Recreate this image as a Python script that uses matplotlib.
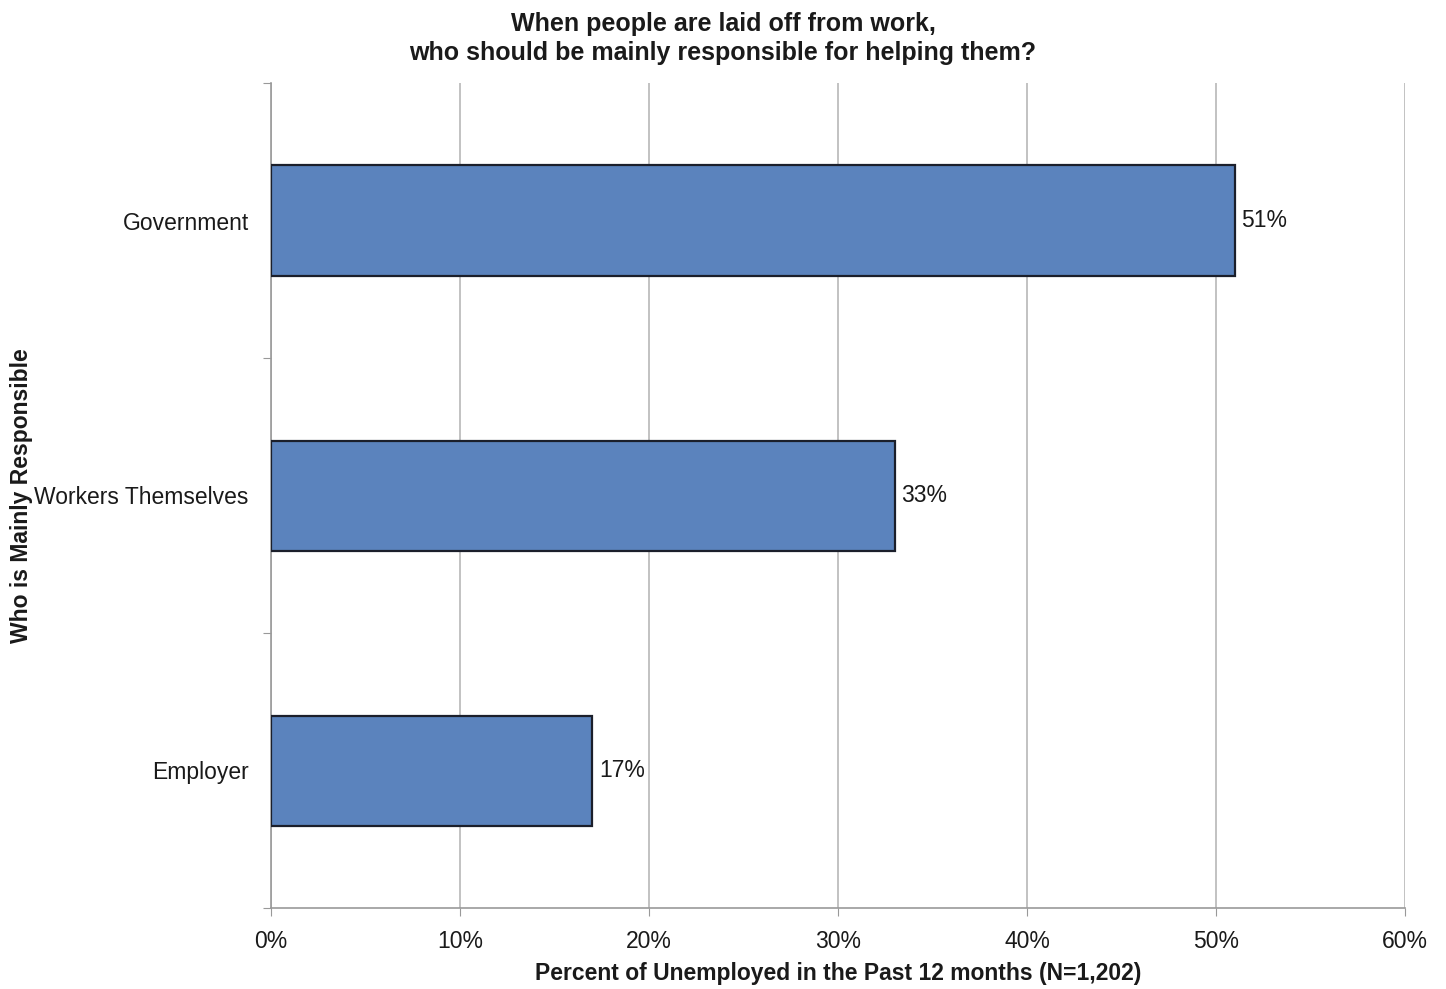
import matplotlib
matplotlib.use("Agg")
import matplotlib.pyplot as plt
from matplotlib.ticker import FixedLocator, NullFormatter

plt.rcParams['font.family'] = ['Liberation Sans', 'DejaVu Sans']

categories = ["Government", "Workers Themselves", "Employer"]
values = [51, 33, 17]
value_labels = ["51%", "33%", "17%"]
xticks = [0, 10, 20, 30, 40, 50, 60]
xtick_labels = ["0%", "10%", "20%", "30%", "40%", "50%", "60%"]

FS = 16.5

fig = plt.figure(figsize=(14.46, 9.89), dpi=100)
ax = fig.add_axes([271/1446, 1-908/989, (1405-271)/1446, (908-83)/989])

n = len(categories)
ypos = [n - 1 - i for i in range(n)]  # top to bottom
ax.barh(ypos, values, height=0.4, color="#5B83BD", edgecolor="#1b1f2b", linewidth=1.6, zorder=3)

for y, v, lab in zip(ypos, values, value_labels):
    ax.text(v + 0.35, y, lab, va="center", ha="left", fontsize=FS, color="#1a1a1a")

ax.set_xlim(0, 60)
ax.set_ylim(-0.5, n - 0.5)
ax.set_xticks(xticks)
ax.set_xticklabels(xtick_labels, fontsize=FS, color="#1a1a1a")
ax.xaxis.grid(True, color="#b8b8b8", linewidth=1.2, zorder=0)

ax.yaxis.set_major_locator(FixedLocator([-0.5 + k for k in range(n + 1)]))
ax.yaxis.set_major_formatter(NullFormatter())
ax.set_yticks(ypos, minor=True)
ax.set_yticklabels(categories, minor=True, fontsize=FS, color="#1a1a1a")
ax.tick_params(axis="y", which="minor", length=0, pad=16)
ax.tick_params(axis="y", which="major", length=6, color="#999999")
ax.tick_params(axis="x", which="major", length=6, color="#999999", pad=10)

for s in ["top", "right"]:
    ax.spines[s].set_visible(False)
for s in ["left", "bottom"]:
    ax.spines[s].set_color("#999999")
    ax.spines[s].set_linewidth(1.2)

ax.set_xlabel("Percent of Unemployed in the Past 12 months (N=1,202)", fontsize=FS,
              fontweight="bold", labelpad=6, color="#1a1a1a")
ax.set_ylabel("Who is Mainly Responsible", fontsize=FS, fontweight="bold", color="#1a1a1a")
ax.yaxis.set_label_coords(-0.21, 0.5)

fig.text(0.5, 0.961, "When people are laid off from work,\nwho should be mainly responsible for helping them?",
         ha="center", va="center", fontsize=18, fontweight="bold", color="#1a1a1a", linespacing=1.3)

fig.savefig("out.png", dpi=100)
